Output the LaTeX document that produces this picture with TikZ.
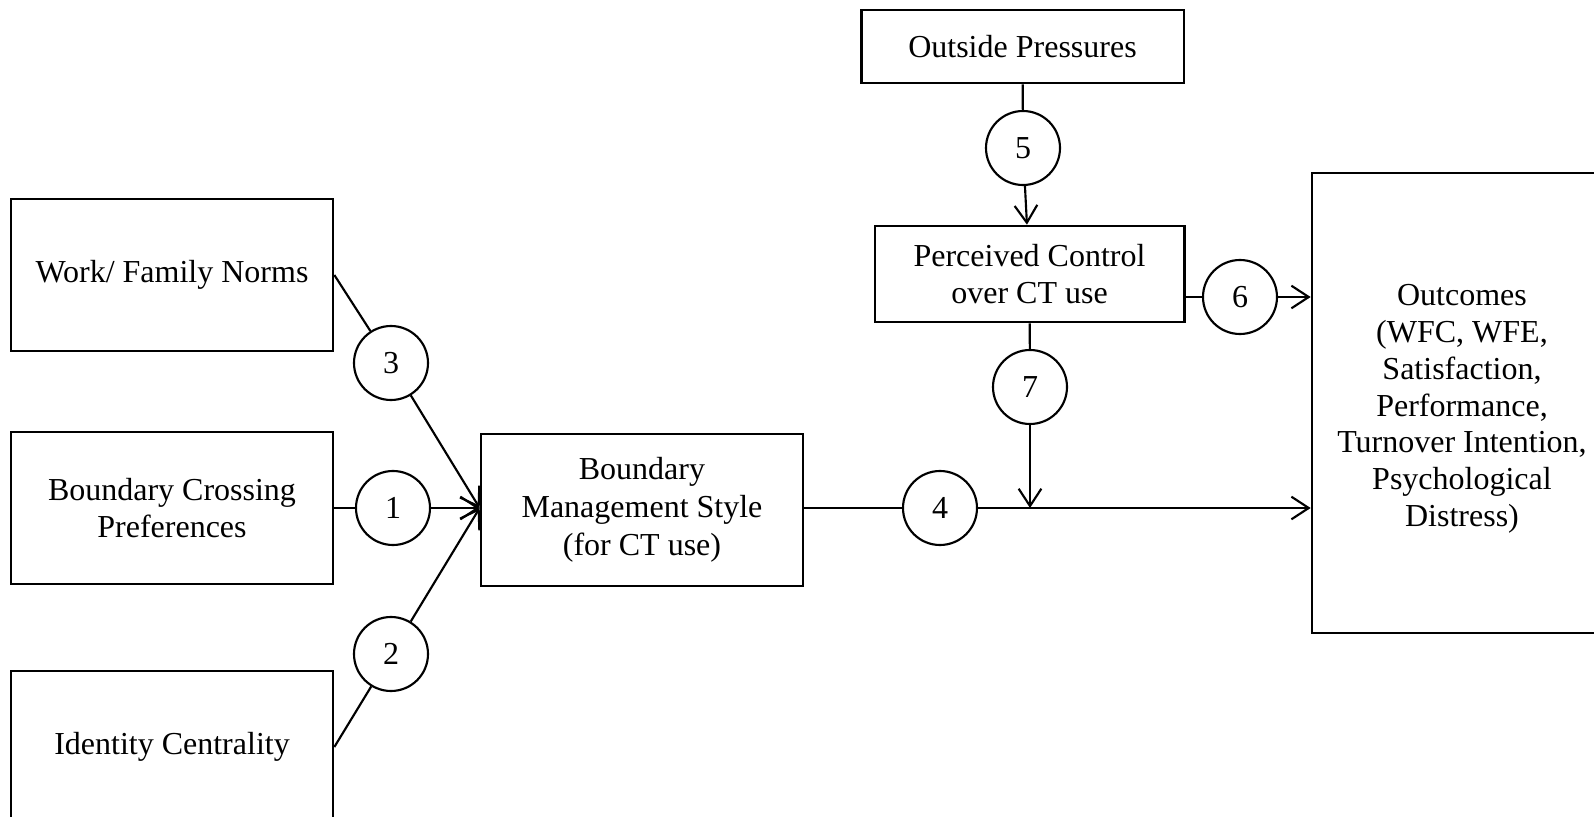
\documentclass[tikz,border=0pt]{standalone}
\usepackage{fontspec}
\setmainfont{Liberation Serif}
\usetikzlibrary{arrows.meta}

\begin{document}
\begin{tikzpicture}[x=0.375pt,y=-0.375pt,
    font=\fontsize{12}{14.2}\selectfont,
    >={Straight Barb[length=6.5pt,width=8.5pt]}]
  \useasboundingbox (0,0) rectangle (1594,817);

  \begin{scope}[every node/.style={rectangle, draw, line width=1pt, align=center, inner sep=0pt}]
    \node[minimum width=120.75pt, minimum height=57pt] (wfn) at (172,275) {Work/ Family Norms};
    \node[minimum width=120.75pt, minimum height=57pt] (bcp) at (172,508) {Boundary Crossing\\Preferences};
    \node[minimum width=120.75pt, minimum height=57pt] (ic) at (172,747) {Identity Centrality};
    \node[minimum width=120.75pt, minimum height=57pt] (bms) at (642,510) {Boundary\\Management Style\\(for CT use)};
    \node[minimum width=121pt, minimum height=27.4pt] (op) at (1022.5,46.5) {Outside Pressures};
    \node[minimum width=116pt, minimum height=36pt] (pc) at (1029.5,274) {Perceived Control\\over CT use};
    \node[minimum width=112.5pt, minimum height=172.5pt] (out) at (1462,403) {};
  \end{scope}
  \node[align=center, inner sep=0pt, font=\fontsize{12}{13.8}\selectfont] (outtxt) at (1462,409)
    {Outcomes\\(WFC, WFE,\\Satisfaction,\\Performance,\\Turnover Intention,\\Psychological\\Distress)};

  \begin{scope}[every node/.style={circle, draw, line width=0.8pt, minimum size=27.75pt, inner sep=0pt}]
    \node (n1) at (393,508) {1};
    \node (n2) at (391,654) {2};
    \node (n3) at (391,363) {3};
    \node (n4) at (940,508) {4};
    \node (n5) at (1023,148) {5};
    \node (n6) at (1240,297) {6};
    \node (n7) at (1030,387) {7};
  \end{scope}

  \begin{scope}[line width=0.8pt]
    \draw (wfn.east) to (n3);
    \draw[->] (n3) to (bms.west |- n1);
    \draw (bcp) to (n1);
    \draw[->] (n1) to (bms.west |- n1);
    \draw (ic.east) to (n2);
    \draw[->] (n2) to (bms.west |- n1);
    \draw (bms.east |- n4) to (n4);
    \draw[->] (n4) to (n4 -| out.west);
    \draw (op) to (n5);
    \draw[->] (n5) to (pc);
    \draw (pc.east |- n6) to (n6);
    \draw[->] (n6) to (n6 -| out.west);
    \draw (pc) to (n7);
    \draw[->] (n7) to (n7 |- n4);
  \end{scope}
\end{tikzpicture}
\end{document}
